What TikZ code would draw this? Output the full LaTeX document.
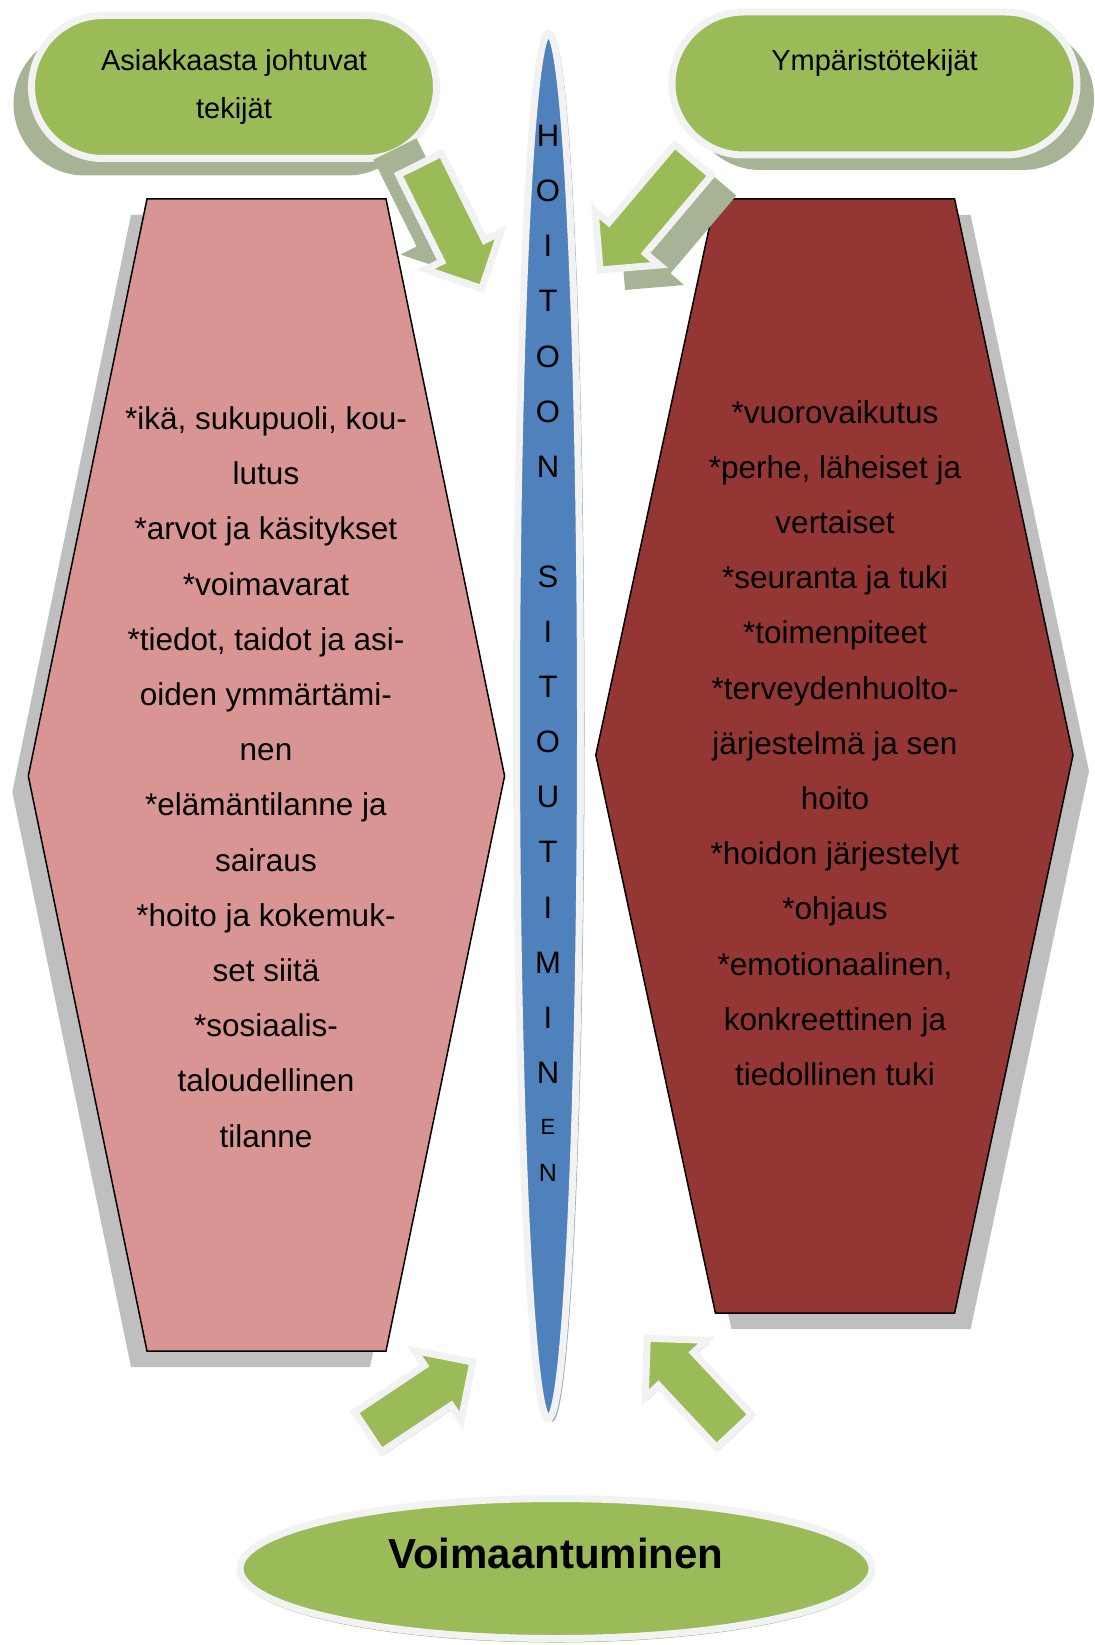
\documentclass[tikz,border=0pt]{standalone}
\usepackage{fontspec}
\setmainfont{Liberation Sans}
\usepackage{tikz}
\usetikzlibrary{shapes.misc, shapes.geometric, shadows}
\definecolor{leafgreen}{HTML}{9BBB59}
\definecolor{hoitoblue}{HTML}{4F81BD}
\definecolor{rosepink}{HTML}{D99594}
\definecolor{wine}{HTML}{943634}
\definecolor{rim}{HTML}{F2F2F2}
\definecolor{shadegreen}{HTML}{A6B495}
\definecolor{shadegray}{HTML}{BFBFBF}
\definecolor{shadeblue}{HTML}{95A6C0}

\begin{document}
\begin{tikzpicture}[x=1pt, y=-1pt,
    dropgreen/.style 2 args={drop shadow={shadow xshift=#1, shadow yshift=#2, fill=shadegreen, opacity=1}},
    pill/.style={rounded rectangle, fill=leafgreen, draw=rim, line width=7pt, minimum width=405pt, minimum height=143pt, inner sep=0pt, align=center, font=\fontsize{29pt}{48pt}\selectfont},
    hexa/.style={draw=black, line width=1.5pt, drop shadow={shadow xshift=#1, shadow yshift=-16pt, fill=shadegray, opacity=1}},
    listtext/.style={align=center, inner sep=0pt, font=\fontsize{31.5pt}{55.2pt}\selectfont},
    arrowlook/.style={fill=leafgreen, draw=rim, line width=7pt, line join=miter},
    pics/fatarrow/.style n args={3}{code={
        \path[arrowlook, dropgreen={#2}{#3}] (0,-24) -- ({#1-42},-24) -- ({#1-42},-42) -- (#1,0) -- ({#1-42},42) -- ({#1-42},24) -- (0,24) -- cycle;}},
    letter/.style={inner sep=0pt, font=\fontsize{31pt}{31pt}\selectfont}]
    \useasboundingbox (0,0) rectangle (1094,1645);

    \path[hexa=-16pt, fill=rosepink] (147,199) -- (386,199) -- (504.6,776) -- (386,1351) -- (147,1351) -- (28.3,776) -- cycle;
    \path[hexa=16pt, fill=wine] (715.4,199) -- (954.6,199) -- (1073,755) -- (954.6,1313) -- (715.4,1313) -- (595.8,755) -- cycle;

    \node[listtext] (t_1) at (266,777) {*ikä, sukupuoli, kou-\\lutus\\*arvot ja käsitykset\\*voimavarat\\*tiedot, taidot ja asi-\\oiden ymmärtämi-\\nen\\*elämäntilanne ja\\sairaus\\*hoito ja kokemuk-\\set siitä\\*sosiaalis-\\taloudellinen\\tilanne};
    \node[listtext] (t_2) at (835,743) {*vuorovaikutus\\*perhe, läheiset ja\\vertaiset\\*seuranta ja tuki\\*toimenpiteet\\*terveydenhuolto-\\järjestelmä ja sen\\hoito\\*hoidon järjestelyt\\*ohjaus\\*emotionaalinen,\\konkreettinen ja\\tiedollinen tuki};

    \node[pill, dropgreen={-18pt}{-17pt}] (f_1) at (234,87) {Asiakkaasta johtuvat\\tekijät};
    \node[pill, dropgreen={17pt}{-15pt}] (f_2) at (874.5,83.5) {Ympäristötekijät\\\mbox{}};

    \pic[rotate=-63.6] (a_1) at (420,164) {fatarrow={139}{-25pt}{15pt}};
    \pic[rotate=-130.2] (a_2) at (693,160) {fatarrow={144}{25pt}{-20pt}};
    \pic[rotate=33.7] (a_3) at (368,1432) {fatarrow={126}{2pt}{-3pt}};
    \pic[rotate=133.1] (a_4) at (734,1431) {fatarrow={127}{2pt}{-3pt}};

    \node[ellipse, fill=hoitoblue, draw=rim, line width=7pt, minimum width=64pt, minimum height=1385pt, inner sep=0pt,
        drop shadow={shadow xshift=4pt, shadow yshift=-3pt, fill=shadeblue, opacity=1}] (sitout) at (548.5,726) {};
    \foreach \k/\c in {0/H,1/O,2/I,3/T,4/O,5/O,6/N,8/S,9/I,10/T,11/O,12/U,13/T,14/I,15/M,16/I,17/N}
        \node[letter] (l_\k) at (548,{136+55.1*\k}) {\c};
    \node[letter, font=\fontsize{22pt}{22pt}\selectfont] (l_18) at (548,1127) {E};
    \node[letter, font=\fontsize{25pt}{25pt}\selectfont] (l_19) at (548,1173) {N};

    \node[ellipse, fill=leafgreen, draw=rim, line width=7pt, minimum width=632pt, minimum height=140pt, inner sep=0pt, text depth=30pt,
        font=\bfseries\fontsize{42pt}{50pt}\selectfont, dropgreen={0pt}{-4pt}] (voima) at (556,1568.5) {Voimaantuminen};
\end{tikzpicture}
\end{document}
